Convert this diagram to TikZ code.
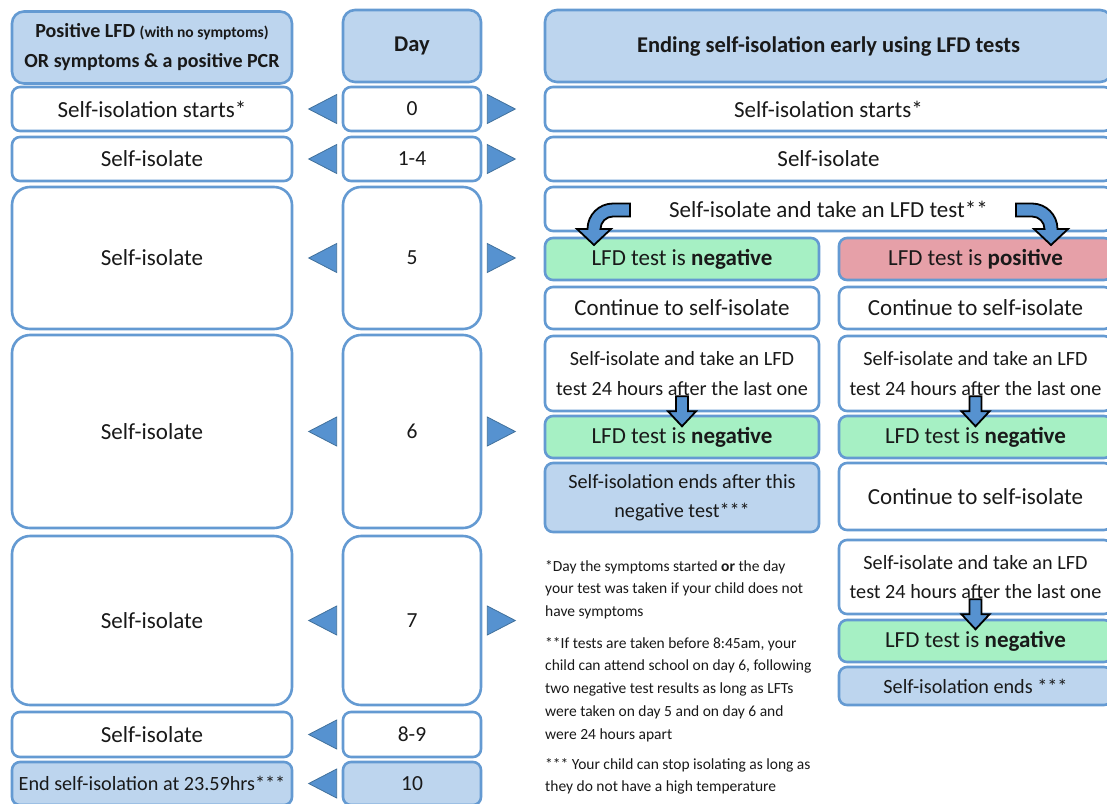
\documentclass[tikz,border=0pt]{standalone}
\usepackage{fontspec}
\setmainfont{Carlito}
\usepackage{xcolor}
\usetikzlibrary{positioning}

\definecolor{boxline}{RGB}{100,154,210}
\definecolor{headfill}{RGB}{189,213,238}
\definecolor{negfill}{RGB}{166,240,196}
\definecolor{posfill}{RGB}{230,160,168}
\definecolor{trifill}{RGB}{86,146,208}
\definecolor{triline}{RGB}{65,113,156}
\definecolor{txt}{RGB}{25,25,25}

\begin{document}
\begin{tikzpicture}[x=1pt, y=-1pt,
  box/.style={draw=boxline, line width=2.6pt, rounded corners=8pt, fill=white, text=txt,
    align=center, inner sep=0pt, font=\fontsize{23}{28}\selectfont},
  bigbox/.style={box, rounded corners=18pt},
  twoline/.style={font=\fontsize{20.2}{29.5}\selectfont},
  daytext/.style={font=\fontsize{21.5}{28}\selectfont},
  head/.style={box, rounded corners=12pt, fill=headfill, font=\fontsize{22.5}{30}\selectfont\bfseries},
  negbox/.style={box, fill=negfill},
  posbox/.style={box, fill=posfill},
  finbox/.style={box, fill=headfill},
  tri/.style={fill=trifill, draw=triline, line width=0.8pt},
  blockarrow/.style={fill=trifill, draw=black, line width=1.8pt, line join=miter},
  note/.style={anchor=north west, align=left, inner sep=0pt, text=txt,
    font=\fontsize{15.5}{22.7}\selectfont}
]
\useasboundingbox (0,0) rectangle (1107,803);
\clip (0,0) rectangle (1107,803);
\fill[white] (0,0) rectangle (1107,803);

% Headers
\node[head, minimum width=280, minimum height=72, font=\fontsize{20}{30}\selectfont\bfseries] (hleft) at (152,47.5)
  {Positive LFD {\fontsize{15.5}{30}\selectfont(with no symptoms)}\\OR symptoms \& a positive PCR};
\node[head, minimum width=138, minimum height=72] (hday) at (412,46) {Day};
\node[head, minimum width=567, minimum height=72] (hright) at (828.5,46) {Ending self-isolation early using LFD tests};

% Left column
\node[box, minimum width=280, minimum height=44] (l0) at (152,109) {Self-isolation starts*};
\node[box, minimum width=280, minimum height=44] (l1) at (152,159) {Self-isolate};
\node[bigbox, minimum width=280, minimum height=142] (l5) at (152,258) {Self-isolate};
\node[bigbox, minimum width=280, minimum height=193] (l6) at (152,431.5) {Self-isolate};
\node[bigbox, minimum width=280, minimum height=169] (l7) at (152,620.5) {Self-isolate};
\node[box, minimum width=280, minimum height=45] (l89) at (152,734.5) {Self-isolate};
\node[finbox, twoline, minimum width=280, minimum height=43] (l10) at (152,783.5) {End self-isolation at 23.59hrs***};

% Day column
\node[box, daytext, minimum width=138, minimum height=44] (d0) at (412,109) {0};
\node[box, daytext, minimum width=138, minimum height=44] (d1) at (412,159) {1-4};
\node[bigbox, daytext, minimum width=138, minimum height=142] (d5) at (412,258) {5};
\node[bigbox, daytext, minimum width=138, minimum height=193] (d6) at (412,431.5) {6};
\node[bigbox, daytext, minimum width=138, minimum height=169] (d7) at (412,620.5) {7};
\node[box, daytext, minimum width=138, minimum height=45] (d89) at (412,734.5) {8-9};
\node[finbox, daytext, minimum width=138, minimum height=43] (d10) at (412,783.5) {10};

% Right part: full width rows
\node[box, minimum width=567, minimum height=44] (r0) at (828.5,109) {Self-isolation starts*};
\node[box, minimum width=567, minimum height=44] (r1) at (828.5,159) {Self-isolate};
\node[box, minimum width=567, minimum height=44] (r5) at (828.5,209) {Self-isolate and take an LFD test**};

% Right part: negative branch
\node[negbox, minimum width=274, minimum height=42] (na5) at (682,259) {LFD test is \textbf{negative}};
\node[box, minimum width=274, minimum height=42] (ca5) at (682,308) {Continue to self-isolate};
\node[box, twoline, minimum width=274, minimum height=75] (ta6) at (682,373.5)
  {Self-isolate and take an LFD\\test 24 hours after the last one};
\node[negbox, minimum width=274, minimum height=42] (na6) at (682,437) {LFD test is \textbf{negative}};
\node[finbox, twoline, minimum width=274, minimum height=69] (ea6) at (682,497.5)
  {Self-isolation ends after this\\negative test***};

% Right part: positive branch
\node[posbox, minimum width=273, minimum height=42] (pb5) at (975.5,259) {LFD test is \textbf{positive}};
\node[box, minimum width=273, minimum height=42] (cb5) at (975.5,308) {Continue to self-isolate};
\node[box, twoline, minimum width=273, minimum height=75] (tb6) at (975.5,373.5)
  {Self-isolate and take an LFD\\test 24 hours after the last one};
\node[negbox, minimum width=273, minimum height=42] (nb6) at (975.5,437) {LFD test is \textbf{negative}};
\node[box, minimum width=273, minimum height=67] (cb6) at (975.5,496.5) {Continue to self-isolate};
\node[box, twoline, minimum width=273, minimum height=74] (tb7) at (975.5,577)
  {Self-isolate and take an LFD\\test 24 hours after the last one};
\node[negbox, minimum width=273, minimum height=42] (nb7) at (975.5,641) {LFD test is \textbf{negative}};
\node[finbox, twoline, minimum width=273, minimum height=38] (eb7) at (975.5,686) {Self-isolation ends ***};

% Footnotes
\node[note] (n1) at (545,560) {*Day the symptoms started \textbf{or} the day\\your test was taken if your child does not\\have symptoms};
\node[note] (n2) at (545,637) {**If tests are taken before 8:45am, your\\child can attend school on day 6, following\\two negative test results as long as LFTs\\were taken on day 5 and on day 6 and\\were 24 hours apart};
\node[note] (n3) at (545,758) {*** Your child can stop isolating as long as\\they do not have a high temperature};

% Triangles beside the day column
\foreach \n in {d0,d1,d5,d6,d7,d89,d10}
  \draw[tri] (\n.west) ++(-5,-14.5) -- ++(-28,14.5) -- ++(28,14.5) -- cycle;
\foreach \n in {d0,d1,d5,d6,d7}
  \draw[tri] (\n.east) ++(5,-14.5) -- ++(28,14.5) -- ++(-28,14.5) -- cycle;

% Curved block arrows from the day 5 test
\draw[blockarrow] (630,203.5) -- (613,203.5) arc[start angle=270, end angle=180, radius=25.5]
  -- (577,229) -- (594,245) -- (611,229) -- (600.5,229)
  arc[start angle=180, end angle=270, radius=12.5] -- (630,216.5) -- cycle;
\draw[blockarrow] (1016,203.5) -- (1032,203.5) arc[start angle=270, end angle=360, radius=25.5]
  -- (1068,229) -- (1051,245) -- (1034,229) -- (1044.5,229)
  arc[start angle=360, end angle=270, radius=12.5] -- (1016,216.5) -- cycle;

% Straight block arrows to the next test result
\foreach \n in {ta6,tb6,tb7}
  \draw[blockarrow] (\n.south) ++(-6,-16) -- ++(12,0) -- ++(0,15) -- ++(8,0)
    -- ++(-14,15) -- ++(-14,-15) -- ++(8,0) -- cycle;

\end{tikzpicture}
\end{document}
